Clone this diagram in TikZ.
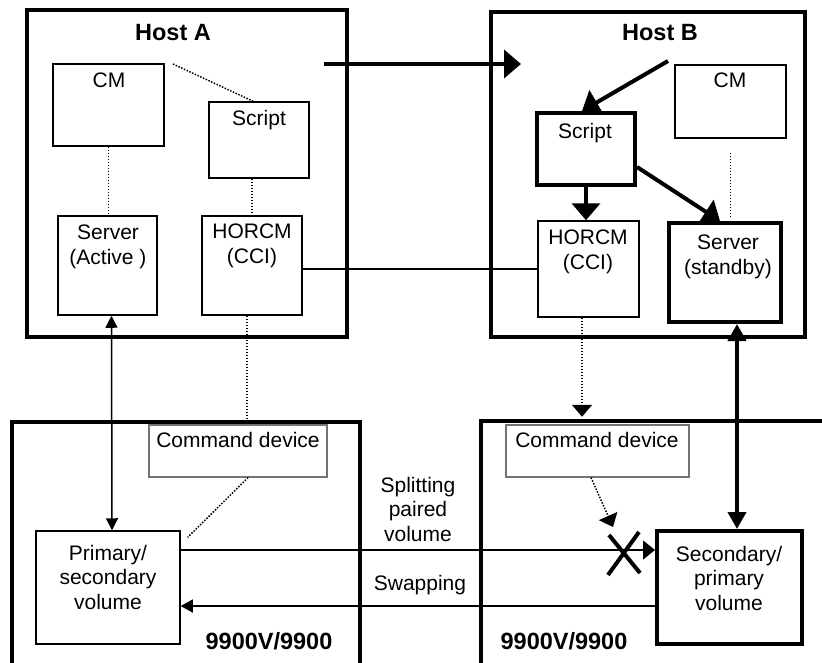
\documentclass[tikz,border=0pt]{standalone}
\usepackage{fontspec}
\setmainfont{Liberation Sans}
\usetikzlibrary{arrows.meta,calc}
\begin{document}
\begin{tikzpicture}[x=1pt,y=-1pt,
  hostbox/.style={draw, line width=4pt, inner sep=0pt},
  thinbox/.style={draw, line width=1.5pt, inner sep=0pt},
  thickbox/.style={draw, line width=4pt, inner sep=0pt},
  cmdbox/.style={draw=black!55, line width=1.2pt, inner sep=0pt},
  storebox/.style={draw, line width=4.5pt, inner sep=0pt},
  txt/.style={inner sep=0pt, anchor=north, align=center, font=\fontsize{21}{24.5}\selectfont},
  btxt/.style={inner sep=0pt, anchor=base, font=\fontsize{23.5}{28}\selectfont\bfseries},
  dotline/.style={line width=1.5pt, dash pattern=on 1.5pt off 1.5pt},
  bigarrow/.style={line width=4pt, -{Triangle[length=17pt,width=28pt]}},
  thinboth/.style={line width=1.5pt, {Triangle[length=12pt,width=12pt]}-{Triangle[length=12pt,width=12pt]}},
  thickboth/.style={line width=4pt, {Triangle[length=17pt,width=18pt]}-{Triangle[length=17pt,width=18pt]}},
  dotarrow/.style={dotline, -{Triangle[length=12pt,width=20pt]}},
]
\useasboundingbox (0,0) rectangle (822,662);
\fill[white] (0,0) rectangle (822,662);
\clip (0,0) rectangle (822,662);

% hosts
\node[hostbox, minimum width=320pt, minimum height=327pt] (hostA) at (187,173.5) {};
\node[hostbox, minimum width=314pt, minimum height=325pt] (hostB) at (648,174.5) {};
\node[btxt] (hostAlbl) at (173,40) {Host A};
\node[btxt] (hostBlbl) at (660,40) {Host B};

% storage
\node[storebox, minimum width=348pt, minimum height=278pt] (storeA) at (186,561) {};
\node[storebox, minimum width=379pt, minimum height=279pt] (storeB) at (670.5,560.5) {};
\node[btxt] (storeAlbl) at (269,649) {9900V/9900};
\node[btxt] (storeBlbl) at (564,649) {9900V/9900};

% host A boxes
\node[thinbox, minimum width=111pt, minimum height=82pt] (cmA) at (108.5,105) {};
\node[thinbox, minimum width=100pt, minimum height=76pt] (scriptA) at (259,140) {};
\node[thinbox, minimum width=99pt, minimum height=99pt] (serverA) at (107.5,265.5) {};
\node[thinbox, minimum width=100pt, minimum height=99pt] (horcmA) at (252,265.5) {};
\node[txt] (cmAt) at (109,73) {CM};
\node[txt] (scriptAt) at (259,110) {Script};
\node[txt] (serverAt) at (108,225) {Server\\(Active )};
\node[txt] (horcmAt) at (252,224) {HORCM\\(CCI)};

% host B boxes
\node[thinbox, minimum width=111pt, minimum height=73pt] (cmB) at (730.5,101.5) {};
\node[thickbox, minimum width=98pt, minimum height=72pt] (scriptB) at (586,149) {};
\node[thinbox, minimum width=101pt, minimum height=96pt] (horcmB) at (588.5,269) {};
\node[thickbox, minimum width=112pt, minimum height=99pt] (serverB) at (725,272.5) {};
\node[txt] (cmBt) at (730,73) {CM};
\node[txt] (scriptBt) at (585,123) {Script};
\node[txt] (horcmBt) at (588,230) {HORCM\\(CCI)};
\node[txt] (serverBt) at (728,235) {Server\\(standby)};

% storage boxes
\node[cmdbox, minimum width=178pt, minimum height=52pt] (cmdA) at (238,451) {};
\node[cmdbox, minimum width=183pt, minimum height=52pt] (cmdB) at (597.5,451) {};
\node[thinbox, minimum width=144pt, minimum height=113pt] (primary) at (108,587.5) {};
\node[thickbox, minimum width=145pt, minimum height=113pt] (secondary) at (729.5,587.5) {};
\node[txt] (cmdAt) at (238,432) {Command device};
\node[txt] (cmdBt) at (597,432) {Command device};
\node[txt] (primaryt) at (108,545) {Primary/\\secondary\\volume};
\node[txt] (secondaryt) at (729,546) {Secondary/\\primary\\volume};

% middle labels
\node[txt] (splitlbl) at (418,477) {Splitting\\paired\\volume};
\node[txt] (swaplbl) at (420,575) {Swapping};

% coordinates
\coordinate (cmAdot) at (173,64);
\coordinate (failS) at (324,64);
\coordinate (failT) at (521,64);
\coordinate (cmBin) at (668,61);
\coordinate (xmark) at (624,554);

% host A dotted links
\draw[dotline] (cmAdot) -- ($(scriptA.north)+(-6,0)$);
\draw[dotline] (cmA.south) -- (cmA.south |- serverA.north);
\draw[dotline] (scriptA.south -| horcmA.north) -- (horcmA.north);

% HORCM link
\draw[line width=1.5pt] (horcmA.east |- horcmB.west) -- (horcmB.west);

% failover arrow
\draw[bigarrow] (failS) -- (failT);

% host B arrows
\draw[bigarrow] (cmBin) -- ($(scriptB.north)+(-4,0)$);
\draw[bigarrow] (scriptB.south) -- (scriptB.south |- horcmB.north);
\draw[bigarrow] ($(scriptB.east)+(0,18)$) -- ($(serverB.north)+(-5,0)$);
\draw[dotline] ($(cmB.south)+(0,14)$) -- ($(cmB.south |- serverB.north)+(0,-3)$);

% host A to storage
\draw[thinboth] ($(serverA.south)+(4,0)$) -- ($(primary.north)+(4,0)$);
\draw[dotline] ($(horcmA.south)+(-5,0)$) -- ($(horcmA.south |- storeA.north)+(-5,0)$);
\draw[dotline] ($(cmdA.south)+(10,0)$) -- ($(primary.north east)+(7,7)$);

% host B to storage
\draw[thickboth] ($(serverB.south)+(12,0)$) -- ($(secondary.north)+(7.5,0)$);
\draw[dotarrow] ($(horcmB.south)+(-6.5,0)$) -- ($(horcmB.south |- storeB.north)+(-6.5,-2)$);
\draw[dotarrow] ($(cmdB.south)+(-6.5,0)$) -- ($(xmark)+(-11,-27)$);

% volume arrows
\draw[line width=1.5pt, -{Triangle[length=12pt,width=19pt]}] ($(primary.east)+(0,-37.5)$) -- ($(secondary.west)+(0,-37.5)$);
\draw[line width=1.5pt, -{Triangle[length=12pt,width=13pt]}] ($(secondary.west)+(0,18.5)$) -- ($(primary.east)+(0,18.5)$);

% X mark
\draw[line width=4pt] ($(xmark)+(-16,21)$) -- ($(xmark)+(15,-22)$)
                      ($(xmark)+(-15,-19)$) -- ($(xmark)+(16,19)$);
\end{tikzpicture}
\end{document}
